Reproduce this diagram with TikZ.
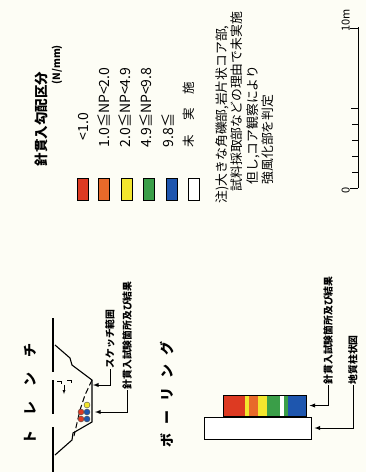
\documentclass[tikz,border=0pt]{standalone}
\usepackage{fontspec}
\setmainfont{Noto Sans CJK JP}
\usepackage{tikz}
\usetikzlibrary{positioning,calc}

\definecolor{paper}{HTML}{FDFDF5}
\definecolor{npred}{HTML}{DD3A22}
\definecolor{nporange}{HTML}{E8692A}
\definecolor{npyellow}{HTML}{F3E62E}
\definecolor{npgreen}{HTML}{3A9E48}
\definecolor{npblue}{HTML}{1E56AE}

\begin{document}
\begin{tikzpicture}[x=1pt,y=-1pt,
		vtext/.style={rotate=90,anchor=west,inner sep=0.5pt},
		legbox/.style={draw,line width=0.9pt,minimum width=11pt,minimum height=22pt,inner sep=0pt},
		legtext/.style={vtext,font=\fontsize{14}{16}\selectfont},
		leader/.style={-latex,line width=0.9pt},
		outline/.style={line width=1.1pt}
	]
		\useasboundingbox (0,0) rectangle (366,472);
		\fill[paper] (0,0) rectangle (366,472);

		% legend
		\node[vtext,
			font=\fontsize{13.5}{15}\selectfont\bfseries
		] (legtitle) at (41,167) {針貫入勾配区分};
		\node[vtext,
			font=\fontsize{10}{12}\selectfont\bfseries
		] (legunit) at (57,85) {(N/mm)};

		\node[legbox, fill=npred] (boxA) at (82.5,189) {};
		\node[legbox, fill=nporange, right=10pt of boxA] (boxB) {};
		\node[legbox, fill=npyellow, right=10.5pt of boxB] (boxC) {};
		\node[legbox, fill=npgreen, right=10.5pt of boxC] (boxD) {};
		\node[legbox, fill=npblue, right=10.5pt of boxD] (boxE) {};
		\node[legbox, fill=white, right=10.5pt of boxE] (boxF) {};

		\node[legtext] (legA) at (83.5,141) {<1.0};
		\node[legtext] (legB) at (103.5,148) {1.0≦NP<2.0};
		\node[legtext] (legC) at (124.5,148) {2.0≦NP<4.9};
		\node[legtext] (legD) at (146,148) {4.9≦NP<9.8};
		\node[legtext] (legE) at (167.5,148) {9.8≦};
		\node[legtext, font=\fontsize{12.5}{14}\selectfont] (legF) at (188.5,148) {未\hspace{14pt}実\hspace{14pt}施};

		% note
		\node[vtext, font=\fontsize{12.8}{14}\selectfont] (noteA) at (222,204) {注)大きな角礫部,岩片状コア部,};
		\node[vtext, font=\fontsize{12.8}{14}\selectfont] (noteB) at (237,192) {試料採取部などの理由で未実施};
		\node[vtext, font=\fontsize{12.8}{14}\selectfont] (noteC) at (253,185) {但し,コア観察により};
		\node[vtext, font=\fontsize{12.8}{14}\selectfont] (noteD) at (268,185) {強風化部を判定};

		% scale
		\draw[line width=1pt] (358,27) -- (358,188);
		\draw[line width=1pt] (358,188) -- (350,188);
		\draw[line width=1pt] (358,172) -- (352,172);
		\draw[line width=1pt] (358,156) -- (352,156);
		\draw[line width=1pt] (358,140) -- (352,140);
		\draw[line width=1pt] (358,124) -- (352,124);
		\draw[line width=1pt] (358,108) -- (351,108);
		\draw[line width=1pt] (358,28) -- (350,28);
		\node[rotate=90, anchor=south, inner sep=1pt,
			font=\fontsize{11}{12}\selectfont] (scalezero) at (351,190) {0};
		\node[rotate=90, anchor=south west, inner sep=1pt,
			font=\fontsize{11}{12}\selectfont] (scaleten) at (351,33) {10m};

		% trench
		\node[vtext,
			font=\fontsize{14}{16}\selectfont\bfseries
		] (trench) at (30,445) {ト\hspace{15pt}レ\hspace{15pt}ン\hspace{15pt}チ};

		\draw[outline] (53,318) -- (53,372);
		\draw[outline] (53,380) -- (53,414);
		\draw[outline] (53,427) -- (53,472);
		\draw[outline] (55,345) -- (70,358) -- (72,365) -- (92,380) -- (92,422)
			-- (73,433) -- (72,440) -- (55,455);
		\draw[line width=1pt, dash pattern=on 6pt off 3pt] (92,380) -- (85,395) -- (80,410) -- (74,436);
		\draw[thin] (57,381) -- (61,381) -- (61,384);
		\draw[thin] (67,380) -- (71,380) -- (71,383);
		\draw[thin,-latex] (64,385) -- (64,394);

		\fill[npyellow, draw=black!70, thin] (87,405) circle (3);
		\fill[npblue, draw=black!70, thin] (87,412) circle (3);
		\fill[npblue, draw=black!70, thin] (87,419) circle (3);
		\fill[npred, draw=black!70, thin] (81,412) circle (3);
		\fill[npred, draw=black!70, thin] (81,419) circle (3);

		\coordinate (sketchedge) at (93,385);
		\coordinate (trenchtest) at (95,412);

		\node[vtext, font=\fontsize{9.8}{11}\selectfont\bfseries] (lblsketch) at (110,369) {スケッチ範囲};
		\node[vtext, font=\fontsize{9.8}{11}\selectfont\bfseries] (lbltrench) at (127,390) {針貫入試験箇所及び結果};

		\draw[leader] (lblsketch.west) |- (sketchedge);
		\draw[leader] (lbltrench.west) |- (trenchtest);

		% boring
		\node[vtext,
			font=\fontsize{14}{16}\selectfont\bfseries
		] (boring) at (167,448) {ボ\hspace{9pt}ー\hspace{9pt}リ\hspace{9pt}ン\hspace{9pt}グ};

		\fill[npred] (223,395) rectangle (245,416);
		\fill[npyellow] (245,395) rectangle (249,416);
		\fill[nporange] (249,395) rectangle (258,416);
		\fill[npyellow] (258,395) rectangle (267,416);
		\fill[npgreen] (267,395) rectangle (280,416);
		\fill[white] (280,395) rectangle (283.5,416);
		\fill[npgreen] (283.5,395) rectangle (287.5,416);
		\fill[npblue] (287.5,395) rectangle (306,416);
		\node[draw, line width=1pt,
			minimum width=83pt,
			minimum height=21pt,
			inner sep=0pt
		] (core) at (264.5,405.5) {};
		\node[draw, line width=1pt, fill=white,
			minimum width=107pt,
			minimum height=22pt,
			inner sep=0pt
		] (column) at (257.5,428) {};

		\node[vtext, font=\fontsize{9.8}{11}\selectfont\bfseries] (lblcore) at (328,385) {針貫入試験箇所及び結果};
		\node[vtext, font=\fontsize{9.8}{11}\selectfont\bfseries] (lblcolumn) at (353,385) {地質柱状図};

		\draw[leader, shorten >=3pt] (lblcore.west) |- (core.east);
		\draw[leader, shorten >=3pt] (lblcolumn.west) |- (column.east);

	\end{tikzpicture}
\end{document}
